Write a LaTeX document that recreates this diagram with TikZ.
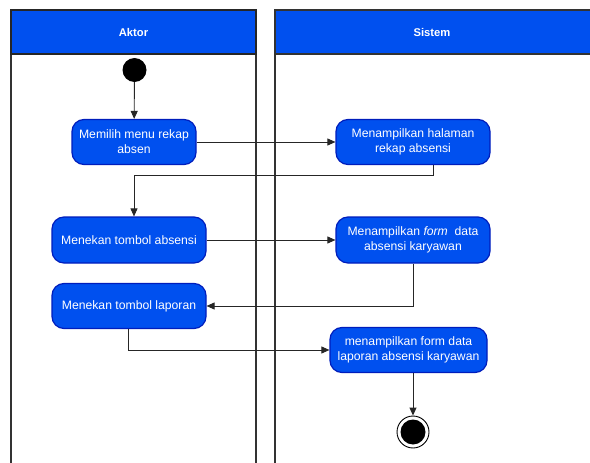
\documentclass[tikz,border=0pt]{standalone}
\usepackage{fontspec}
\setmainfont{Liberation Sans}
\usetikzlibrary{arrows.meta}
\definecolor{laneblue}{HTML}{0050EF}
\definecolor{edgeblue}{HTML}{001DBC}
\tikzset{
  act/.style={draw=edgeblue, line width=1.2pt, fill=laneblue, rounded corners=12pt,
    text=white, align=center, inner sep=0pt, font=\fontsize{12.2}{15}\selectfont},
  lanebox/.style={draw=black!80, line width=1.6pt},
  header/.style={fill=laneblue, draw=black!85, line width=1.6pt},
  conn/.style={draw=black!85, line width=0.9pt, -{Triangle[length=8pt,width=7pt]}},
}
\begin{document}
\begin{tikzpicture}[x=1pt,y=-1pt]
\useasboundingbox (0,0) rectangle (590,463);
% lanes
\draw[lanebox] (11,470) -- (11,10) -- (256,10) -- (256,470);
\draw[header] (11,10) rectangle (256,54);
\node[text=white, font=\bfseries\fontsize{11.2}{13}\selectfont] (haktor) at (133.5,32) {Aktor};
\draw[lanebox] (275,470) -- (275,10);
\fill[laneblue] (275,10) rectangle (592,54);
\draw[lanebox] (592,10) -- (275,10) -- (275,54) -- (592,54);
\node[text=white, font=\bfseries\fontsize{11.2}{13}\selectfont] (hsistem) at (432,32) {Sistem};
% start
\node[circle, fill=black, minimum size=24pt, inner sep=0pt] (start) at (134.5,70) {};
% actions
\node[act, minimum width=124pt, minimum height=45pt] (n1) at (134,142) {Memilih menu rekap\\absen};
\node[act, minimum width=154pt, minimum height=46pt] (n2) at (129,240) {Menekan tombol absensi};
\node[act, minimum width=154pt, minimum height=45pt] (n3) at (129,306) {Menekan tombol laporan};
\node[act, minimum width=154pt, minimum height=45pt] (n4) at (413,142) {Menampilkan halaman\\rekap absensi};
\node[act, minimum width=154pt, minimum height=46pt] (n5) at (413,240) {Menampilkan \textit{form}\ \ data\\absensi karyawan};
\node[act, minimum width=157pt, minimum height=45pt] (n6) at (408.5,350) {menampilkan form data\\laporan absensi karyawan};
% end
\node[circle, draw=black, line width=0.9pt, minimum size=32pt, inner sep=0pt] (end) at (413,432) {};
\fill (end) circle (12.5);
% connectors
\draw[conn] (start) -- (n1);
\draw[conn] (n1) -- (n4);
\draw[conn] ([xshift=20pt]n4.south) -- ++(0,10) -| (n1.south |- n2.north);
\draw[conn] (n2) -- (n5);
\draw[conn] (n5.south) |- (n3.east);
\draw[conn] ([xshift=-1pt]n3.south) |- (n6.west);
\draw[conn] (n6.south -| end) -- (end);
\end{tikzpicture}
\end{document}
